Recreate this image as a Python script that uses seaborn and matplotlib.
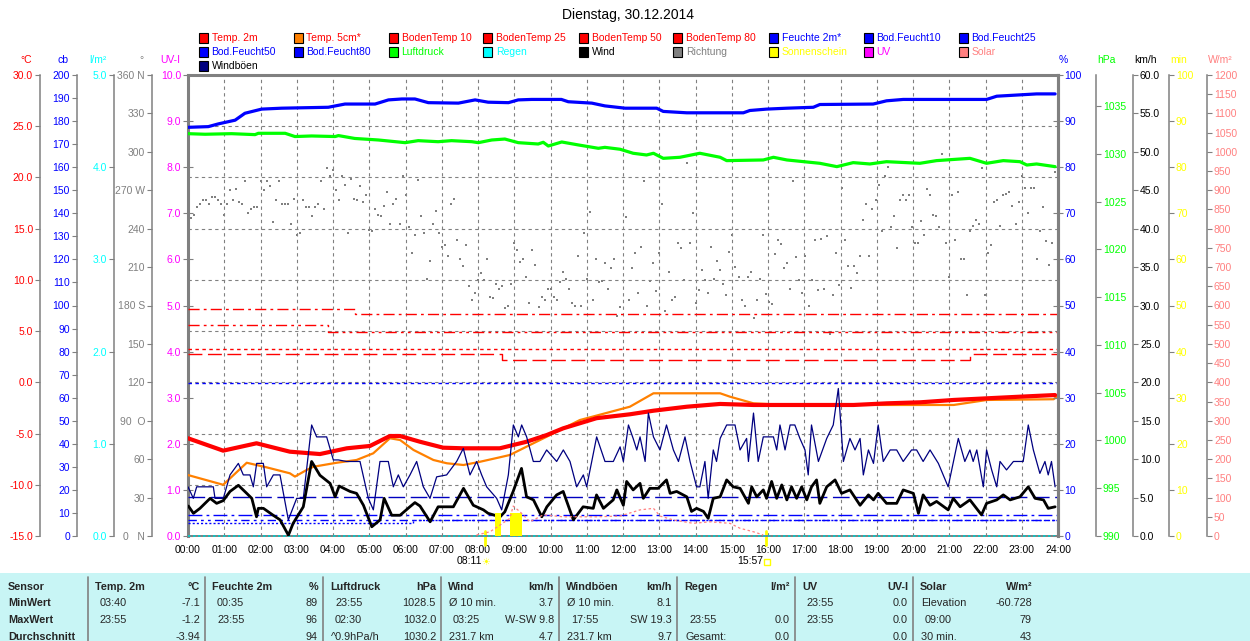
import numpy as np
import matplotlib
matplotlib.use("Agg")
import matplotlib.pyplot as plt
import seaborn as sns
from matplotlib.patches import Rectangle
from matplotlib.lines import Line2D

# ---------------- data ----------------
title = "Dienstag, 30.12.2014"
hours = list(range(25))
hour_labels = ["%02d:00" % h for h in hours]

# Temp. 2m / Temp. 5cm (degC)
temp2m_t = [0, 0.97, 1.89, 2.81, 3.64, 4.38, 5.02, 5.57, 5.85, 6.4, 7.04, 7.6, 8.6, 8.97,
            9.34, 9.9, 10.35, 11.27, 12.19, 12.84, 13.76, 14.68, 15.6, 16.52, 17.44, 18.36,
            19.28, 20.2, 21.12, 22.04, 22.96, 23.92]
temp2m = [-5.46, -6.67, -5.95, -6.77, -7.0, -6.44, -6.21, -5.24, -5.24, -5.8, -6.38, -6.44,
          -6.44, -6.12, -5.8, -5.14, -4.49, -3.5, -3.12, -2.77, -2.38, -2.11, -2.21, -2.21,
          -2.21, -2.21, -2.05, -1.95, -1.72, -1.56, -1.4, -1.24]
temp5_t = [0, 0.97, 1.62, 2.17, 2.81, 2.95, 3.27, 3.46, 4.1, 4.65, 5.11, 5.57, 5.85, 6.22,
           6.77, 7.14, 7.6, 8.06, 8.6, 8.88, 9.43, 9.9, 10.81, 12.19, 12.84, 14.68, 14.95,
           15.6, 16.52, 21.12, 22.04, 23.88, 23.97]
temp5 = [-9.05, -10.0, -7.85, -8.3, -8.88, -9.2, -8.56, -8.24, -7.85, -7.58, -6.93, -5.46,
         -5.63, -6.6, -7.58, -7.9, -8.07, -7.75, -7.32, -7.09, -6.12, -5.3, -3.68, -2.38,
         -1.07, -1.07, -1.4, -2.05, -2.21, -2.21, -1.72, -1.65, -1.4]

# soil temperatures (degC), values change at the given times
boden80_t, boden80 = [0, 4.6, 24], [7.13, 6.64, 6.64]
boden50_t, boden50 = [0, 3.86, 24], [5.57, 4.88, 4.88]
boden25_t, boden25 = [0, 24], [3.23, 3.23]
boden10_t, boden10 = [0, 8.65, 21.57, 24], [2.74, 2.15, 2.74, 2.74]

# soil moisture (cb)
bf10_t, bf10 = [0, 24], [66.2, 66.2]
bf25_t, bf25 = [0, 24], [16.8, 16.8]
bf50_t, bf50 = [0, 24], [9.1, 9.1]
bf80_t, bf80 = [0, 6.2, 24], [6.9, 6.9, 6.9]
bf80b_t, bf80b = [0, 6.2, 24], [5.8, 6.9, 6.9]

# Feuchte 2m (%)
hum_t = [0, 0.56, 0.84, 1.3, 1.57, 2.03, 2.58, 3.87, 4.33, 5.16, 5.53, 5.9, 6.26, 6.63, 7.46,
         7.92, 8.28, 8.84, 9.11, 9.48, 10.3, 10.49, 11.14, 11.5, 12.06, 12.93, 13.11, 13.76,
         15.32, 15.5, 15.96, 16.52, 17.25, 17.43, 18.9, 19.27, 19.73, 22.03, 22.31, 23.41, 23.92]
hum = [88.65, 88.8, 89.4, 90.2, 91.7, 92.6, 92.8, 93.0, 93.7, 93.7, 94.6, 94.8, 94.8, 94.0,
       93.9, 94.6, 94.1, 94.0, 94.6, 94.7, 94.7, 94.2, 93.9, 93.3, 92.8, 92.8, 92.1, 91.8,
       91.8, 92.3, 92.6, 92.8, 93.0, 93.6, 93.7, 94.4, 94.7, 94.7, 95.4, 95.9, 95.9]

# Luftdruck (hPa)
pres_t = [0, 0.47, 1.2, 1.85, 1.94, 2.68, 2.95, 3.41, 4.06, 4.15, 4.6, 5.25, 5.99, 6.35, 6.9,
          7.27, 7.83, 8.01, 8.38, 8.74, 9.11, 9.66, 9.8, 9.94, 10.31, 10.77, 11.32, 11.5,
          11.92, 12.28, 12.65, 12.84, 13.11, 13.57, 14.12, 14.68, 14.86, 15.87, 16.15, 16.52,
          17.43, 17.9, 18.35, 18.81, 19.27, 20.19, 20.65, 21.57, 22.03, 22.49, 22.95, 23.14,
          23.41, 23.92]
pres = [1032.1, 1032.04, 1032.1, 1032.0, 1032.14, 1032.14, 1031.8, 1031.86, 1031.8, 1031.9,
        1031.6, 1031.44, 1031.16, 1031.37, 1031.26, 1031.37, 1031.26, 1031.16, 1031.44,
        1031.54, 1031.16, 1031.02, 1031.2, 1030.81, 1031.23, 1030.92, 1030.57, 1030.67,
        1030.47, 1030.05, 1029.87, 1030.05, 1029.52, 1029.63, 1030.05, 1029.63, 1029.28,
        1029.35, 1029.63, 1029.35, 1029.0, 1028.65, 1029.07, 1028.93, 1029.17, 1029.0,
        1029.28, 1029.52, 1029.0, 1029.28, 1029.17, 1028.82, 1028.93, 1028.65]

# Wind (km/h)
wind_t = [0.01, 0.15, 0.33, 0.61, 0.79, 0.97, 1.16, 1.39, 1.62, 1.76, 1.89, 1.94, 2.08, 2.35,
          2.54, 2.77, 2.9, 3.18, 3.41, 3.64, 3.92, 4.06, 4.17, 4.47, 4.65, 4.84, 5.07, 5.3,
          5.41, 5.62, 5.85, 6.12, 6.26, 6.4, 6.68, 6.9, 7.14, 7.32, 7.6, 7.87, 8.15, 8.28,
          8.61, 8.74, 8.97, 9.2, 9.34, 9.53, 9.76, 9.9, 10.17, 10.35, 10.63, 10.9, 11.18,
          11.27, 11.46, 11.73, 11.83, 12.01,
          12.1, 12.28, 12.47, 12.56, 12.74, 12.97, 13.2, 13.3, 13.48, 13.76, 13.89, 14.03,
          14.22, 14.35, 14.49, 14.68, 14.86, 15.04, 15.23, 15.46, 15.55, 15.69, 15.87, 15.96,
          16.1, 16.24, 16.38, 16.52, 16.65, 16.79, 16.93, 17.07, 17.2, 17.34, 17.43, 17.62,
          17.85, 18.03, 18.26, 18.54, 18.77, 18.91, 19.04, 19.27, 19.55, 19.73, 20.01, 20.15,
          20.28, 20.47, 20.65, 20.97, 21.11, 21.3, 21.57, 21.89, 22.03, 22.31, 22.49, 22.68,
          22.95, 23.18, 23.37, 23.6, 23.73, 23.92]
wind = [3.9, 2.95, 3.6, 4.9, 4.25, 4.6, 5.8, 6.6, 5.55, 4.9, 2.5, 3.6, 3.6, 2.7, 2.1, 0.1,
        1.65, 3.8, 9.7, 7.9, 6.85, 5.1, 6.5, 5.8, 5.55, 4.0, 1.2, 2.1, 4.9, 2.7, 2.7, 3.8,
        4.35, 3.9, 1.85, 3.8, 3.8, 3.8, 6.2, 4.0, 3.4, 2.95, 2.5, 3.15, 5.8, 8.8, 5.1, 4.7,
        2.5, 3.8, 5.35, 5.8, 2.1, 3.8, 3.6, 5.35, 3.6, 4.7, 6.0, 4.0,
        7.1, 6.0, 6.85, 4.9, 6.2, 6.2, 7.3, 5.55, 5.8, 5.1, 3.2, 3.6, 3.2, 2.3, 4.9, 5.1,
        7.3, 6.4, 6.2, 4.25, 6.4, 5.1, 6.0, 4.9, 7.1, 4.9, 6.65, 4.7, 6.4, 4.9, 6.4, 4.7,
        6.4, 7.3, 4.25, 6.4, 7.3, 5.55, 6.0, 4.0, 5.35, 4.7, 5.55, 4.25, 4.25, 6.0, 5.55,
        2.95, 5.35, 4.0, 4.5, 3.4, 4.9, 3.8, 4.7, 2.75, 4.25, 4.7, 5.35, 4.7, 5.1, 6.4, 4.9,
        4.7, 3.6, 3.8]

# Windboeen (km/h)
gust_t = [0, 0.147, 0.239, 0.699, 0.745, 0.975, 1.159, 1.389, 1.526, 1.71, 1.802, 1.894, 2.078,
          2.17, 2.354, 2.538, 2.768, 2.998, 3.181, 3.411, 3.549, 3.825, 4.009, 4.147, 4.377,
          4.745, 4.975, 5.113, 5.296, 5.526, 5.664, 5.802, 5.94, 6.124, 6.308, 6.492, 6.676,
          6.86, 7.135, 7.411, 7.595, 7.779, 7.963, 8.101, 8.239, 8.515, 8.653, 8.837, 8.975,
          9.113, 9.205, 9.342, 9.526, 9.71, 9.894, 10.17, 10.354, 10.538, 10.722, 10.906,
          10.998, 11.273, 11.503, 11.733,
          11.92, 12.01, 12.15, 12.28, 12.38, 12.47, 12.61, 12.7, 12.84, 13.02, 13.2, 13.39,
          13.53, 13.71, 13.85, 14.03, 14.12, 14.26, 14.35, 14.49, 14.58, 14.68, 14.86, 15.09,
          15.23, 15.41, 15.46, 15.6, 15.73, 15.87, 16.15, 16.24, 16.33, 16.47, 16.61, 16.74,
          16.88, 17.02, 17.11, 17.2, 17.39, 17.62, 17.8, 17.94, 18.08, 18.26, 18.4, 18.54,
          18.63, 18.77, 18.91, 19.04, 19.18, 19.37, 19.55, 19.73, 19.96, 20.1, 20.28, 20.47,
          20.7, 20.97, 21.25, 21.43, 21.57, 21.66, 21.76, 21.94, 22.03, 22.17, 22.31, 22.4,
          22.58, 22.77, 23.04, 23.18, 23.32, 23.5, 23.64, 23.73, 23.82, 23.92]
gust = [6.4, 4.9, 6.4, 6.4, 4.9, 4.9, 7.95, 9.45, 7.95, 7.95, 6.4, 9.45, 9.45, 6.4, 7.95, 7.95,
        2.1, 4.9, 4.9, 14.45, 12.9, 12.9, 9.9, 9.9, 9.7, 9.7, 4.9, 3.4, 9.7, 9.7, 6.4, 7.95,
        6.4, 7.95, 9.7, 6.4, 4.9, 7.7, 7.95, 9.7, 11.4, 7.95, 9.7, 7.95, 6.4, 4.9, 3.4, 7.95,
        14.45, 12.9, 14.45, 12.9, 9.7, 9.7, 11.2, 9.7, 11.2, 9.7, 6.4, 7.95, 6.4, 12.9, 9.7, 9.7,
        11.6, 9.7, 14.45, 12.7, 11.2, 12.9, 9.7, 16.0, 12.9, 11.2, 14.45, 11.2, 9.7, 12.9, 9.7,
        6.4, 6.4, 9.7, 4.9, 11.2, 9.7, 12.7, 14.45, 14.45, 11.2, 12.7, 9.7, 16.0, 9.7, 12.9,
        12.9, 11.2, 14.45, 11.2, 14.45, 14.45, 12.7, 11.2, 7.95, 14.45, 9.7, 12.7, 14.45, 19.2,
        9.7, 12.7, 11.2, 12.7, 7.95, 11.2, 9.45, 14.45, 9.7, 11.2, 11.2, 9.7, 11.2, 11.2, 9.7,
        11.2, 9.45, 6.4, 12.7, 9.7, 11.2, 9.7, 11.2, 6.4, 11.2, 8.6, 6.4, 9.7, 8.6, 9.7, 9.7,
        14.45, 11.2, 8.15, 9.7, 7.95, 9.7, 6.4]

# Richtung (degrees), 5-minute samples, first and second half of the day
dir_a = [248, 251, 257, 259, 262, 262, 259, 265, 265, 262, 259, 251, 259, 270, 262, 271, 261,
         259, 277, 252, 255, 257, 257, 277, 270, 277, 273, 245, 262, 277, 259, 259, 259, 244,
         263, 235, 237, 262, 257, 257, 250, 257, 259, 277, 255, 287, 281, 286, 270, 262, 281,
         274, 237, 279, 263, 262, 273, 261, 266, 239, 238, 255, 251, 250, 258, 269, 244, 259,
         263, 244, 281, 266, 241, 221, 235, 278, 250, 237, 201, 215, 244, 254, 237, 226, 227,
         219, 259, 263, 231, 216, 211, 227, 195, 184, 190, 200, 205, 200, 216, 187, 186, 197,
         193, 195, 178, 180, 197, 229, 223, 214, 216, 202, 182, 223, 212, 179, 187, 184, 193,
         193, 187, 184, 198, 206, 201, 193, 182, 180, 219, 180, 237, 201, 253, 184, 216, 198,
         199, 213, 193, 209, 216, 172, 179]
dir_b = [249, 184, 209, 221, 190, 226, 277, 180, 199, 213, 191, 221, 259, 176, 206, 184, 187,
         229, 225, 200, 291, 229, 252, 182, 192, 208, 200, 190, 226, 201, 215, 208, 197, 188,
         222, 235, 210, 202, 184, 180, 202, 206, 170, 184, 201, 235, 189, 183, 181, 220, 231,
         228, 209, 213, 193, 277, 218, 200, 190, 219, 180, 200, 231, 192, 232, 193, 234, 158,
         188, 221, 196, 272, 231, 211, 194, 211, 205, 219, 247, 259, 219, 255, 262, 274, 238,
         281, 288, 241, 250, 225, 262, 266, 262, 266, 241, 229, 229, 246, 235, 271, 266, 251,
         250, 241, 298, 229, 202, 266, 231, 269, 216, 216, 188, 238, 242, 247, 244, 287, 188,
         221, 227, 261, 262, 242, 266, 267, 269, 258, 244, 261, 281, 272, 252, 272, 272, 216,
         238, 257, 230, 212, 229, 284]
dir_a_t = np.linspace(0.083, 11.92, len(dir_a))
dir_b_t = np.linspace(12.08, 23.92, len(dir_b))

# Sonnenschein (min per 5 minutes)
sun_t = [8.47, 8.55, 8.88, 8.96, 9.04, 9.12]
sun_min = [5, 5, 5, 5, 5, 5]

# Solar (W/m2)
solar_t = [7.96, 8.33, 8.61, 8.88, 8.97, 9.16, 9.43, 9.8, 10.35, 11.27, 11.92, 12.47, 12.84,
           13.02, 13.39, 13.94, 14.4, 14.95, 15.23, 15.6, 15.87]
solar = [2.6, 11, 28.6, 46, 78, 63, 37, 55, 50, 50, 52, 68, 72, 52, 41.7, 33, 37, 33, 20, 11, 2.6]

# Regen / UV stayed at zero
zero_t, zero_v = [0, 24], [0, 0]

# sunrise / sunset
sun_events = [8 + 11 / 60, 15 + 57 / 60]
sun_event_labels = ["08:11", "15:57"]

# legend
legend_rows = [
    ["Temp. 2m", "Temp. 5cm*", "BodenTemp 10", "BodenTemp 25", "BodenTemp 50", "BodenTemp 80",
     "Feuchte 2m*", "Bod.Feucht10", "Bod.Feucht25"],
    ["Bod.Feucht50", "Bod.Feucht80", "Luftdruck", "Regen", "Wind", "Richtung", "Sonnenschein",
     "UV", "Solar"],
    ["Windböen"],
]
legend_box_colors = [
    ["#ff0000", "#ff8000", "#ff0000", "#ff0000", "#ff0000", "#ff0000", "#0000ff", "#0000ff", "#0000ff"],
    ["#0000ff", "#0000ff", "#00ff00", "#00ffff", "#000000", "#808080", "#ffff00", "#ff00ff", "#ff8080"],
    ["#000080"],
]
legend_text_colors = [
    ["#ff0000", "#ff0000", "#ff0000", "#ff0000", "#ff0000", "#ff0000", "#0000ff", "#0000ff", "#0000ff"],
    ["#0000ff", "#0000ff", "#00ff00", "#00ffff", "#000000", "#808080", "#ffff00", "#ff00ff", "#ff8080"],
    ["#000000"],
]

# summary table
row_names = ["Sensor", "MinWert", "MaxWert", "Durchschnitt"]
sensors = ["Temp. 2m", "Feuchte 2m", "Luftdruck", "Wind", "Windböen", "Regen", "UV", "Solar"]
units = ["°C", "%", "hPa", "km/h", "km/h", "l/m²", "UV-I", "W/m²"]
min_when = ["03:40", "00:35", "23:55", "Ø 10 min.", "Ø 10 min.", "", "23:55", "Elevation"]
min_val = ["-7.1", "89", "1028.5", "3.7", "8.1", "", "0.0", "-60.728"]
max_when = ["23:55", "23:55", "02:30", "03:25", "17:55", "23:55", "23:55", "09:00"]
max_val = ["-1.2", "96", "1032.0", "W-SW 9.8", "SW 19.3", "0.0", "0.0", "79"]
avg_when = ["", "", "^0.9hPa/h", "231.7 km", "231.7 km", "Gesamt:", "", "30 min."]
avg_val = ["-3.94", "94", "1030.2", "4.7", "9.7", "0.0", "0.0", "43"]

# ---------------- drawing ----------------
sns.set_style("white")
plt.rcParams["font.family"] = ["Liberation Sans", "DejaVu Sans"]
plt.rcParams["font.size"] = 7.5

GRAY = "#808080"
W, H = 1250, 641
L, R, T, B = 188, 1058, 75, 536

fig = plt.figure(figsize=(W / 100, H / 100), dpi=100)


def fx(px):
    return px / W


def fy(py):
    return 1 - py / H


def apos(px):
    return (px - L) / (R - L)


ax = fig.add_axes([fx(L), fy(B), (R - L) / W, (B - T) / H])
ax.set_xlim(0, 24)
ax.set_ylim(0, 10)
ax.set_xticks(hours)
ax.set_xticklabels(hour_labels)
ax.set_yticks(range(11))
ax.set_yticklabels(["%.1f" % v for v in range(11)])
ax.tick_params(axis="x", length=0, pad=6.5, labelsize=7.5, labelcolor="black")
ax.tick_params(axis="y", direction="inout", length=7, width=0.8, color=GRAY,
               labelcolor="#ff00ff", labelsize=7.5, pad=1.5)
for side, s in ax.spines.items():
    s.set_color(GRAY)
    s.set_linewidth(2.2 if side != "bottom" else 1.4)
ax.grid(axis="x", color=GRAY, linestyle=(0, (3, 3)), linewidth=0.8)
ax.set_axisbelow(True)
ax.text(apos(L - 8), 1 + 15 / (B - T), "UV-I", transform=ax.transAxes, ha="right",
        va="center", color="#ff00ff", fontsize=7.5)


def make_axis(side, px, lim, ticks, labels, color, unit, lw=1.1, direction="out"):
    a = ax.twinx()
    a.set_ylim(*lim)
    for s in a.spines.values():
        s.set_visible(False)
    sp = a.spines[side]
    sp.set_visible(True)
    sp.set_position(("axes", apos(px)))
    sp.set_color(GRAY)
    sp.set_linewidth(lw)
    a.yaxis.set_ticks_position(side)
    a.set_yticks(ticks)
    a.set_yticklabels(labels)
    a.tick_params(axis="y", direction=direction, length=3.8 if direction == "out" else 7,
                  width=0.8, color=GRAY, labelcolor=color, labelsize=7.5, pad=1.2)
    if side == "left":
        a.text(apos(px - 8), 1 + 15 / (B - T), unit, transform=a.transAxes, ha="right",
               va="center", color=color, fontsize=7.5)
    else:
        a.text(apos(px + 1), 1 + 15 / (B - T), unit, transform=a.transAxes, ha="left",
               va="center", color=color, fontsize=7.5)
    return a


c_ticks = list(range(-15, 31, 5))
c_ax = make_axis("left", 40, (-15, 30), c_ticks, ["%.1f" % v for v in c_ticks], "#ff0000", "°C")
c_ax.grid(axis="y", color=GRAY, linestyle=(0, (3, 3)), linewidth=0.8)
cb_ticks = list(range(0, 201, 10))
cb_ax = make_axis("left", 77, (0, 200), cb_ticks, [str(v) for v in cb_ticks], "#0000ff", "cb")
l_ticks = list(range(6))
l_ax = make_axis("left", 114, (0, 5), l_ticks, ["%.1f" % v for v in l_ticks], "#00ffff", "l/m²")
deg_ticks = list(range(0, 361, 30))
deg_labels = ["0   N", "30", "60", "90  O", "120", "150", "180 S", "210", "240", "270 W",
              "300", "330", "360 N"]
deg_ax = make_axis("left", 152, (0, 360), deg_ticks, deg_labels, GRAY, "°")
pct_ticks = list(range(0, 101, 10))
pct_ax = make_axis("right", R, (0, 100), pct_ticks, [str(v) for v in pct_ticks], "#0000ff", "%",
                   lw=2.2, direction="inout")
hpa_ticks = list(range(990, 1036, 5))
hpa_ax = make_axis("right", 1096, (990, 1038.24), hpa_ticks, [str(v) for v in hpa_ticks],
                   "#00ff00", "hPa")
kmh_ticks = list(range(0, 61, 5))
kmh_ax = make_axis("right", 1133, (0, 60), kmh_ticks, ["%.1f" % v for v in kmh_ticks],
                   "#000000", "km/h")
min_ticks = list(range(0, 101, 10))
min_ax = make_axis("right", 1169, (0, 100), min_ticks, [str(v) for v in min_ticks],
                   "#ffff00", "min")
w_ticks = list(range(0, 1201, 50))
w_ax = make_axis("right", 1207, (0, 1200), w_ticks, [str(v) for v in w_ticks], "#ff8080", "W/m²")

# soil temperatures
for tt, vv, ls in [(boden80_t, boden80, (0, (8, 3, 2, 3))),
                   (boden50_t, boden50, (0, (8, 3, 2, 3, 2, 3))),
                   (boden25_t, boden25, (0, (2.5, 2.5))),
                   (boden10_t, boden10, (0, (10, 4)))]:
    sns.lineplot(x=tt, y=vv, ax=c_ax, color="#ff0000", linewidth=1.0, linestyle=ls,
                 drawstyle="steps-post", estimator=None)
sns.lineplot(x=temp5_t, y=temp5, ax=c_ax, color="#ff8000", linewidth=1.6, estimator=None)
sns.lineplot(x=temp2m_t, y=temp2m, ax=c_ax, color="#ff0000", linewidth=3.0, estimator=None)

# soil moisture
for tt, vv, ls, col in [(bf10_t, bf10, (0, (2.5, 2.5)), "#0000ff"),
                        (bf25_t, bf25, (0, (12, 4)), "#0000c0"),
                        (bf50_t, bf50, (0, (10, 3, 2, 3)), "#0000ff"),
                        (bf80_t, bf80, (0, (6, 3, 2, 3, 2, 3)), "#0000ff"),
                        (bf80b_t, bf80b, (0, (1.5, 1.5)), "#0000ff")]:
    sns.lineplot(x=tt, y=vv, ax=cb_ax, color=col, linewidth=1.0, linestyle=ls,
                 drawstyle="steps-post", estimator=None)

# rain and UV (zero)
sns.lineplot(x=zero_t, y=zero_v, ax=ax, color="#ff00ff", linewidth=1.0, estimator=None)
sns.lineplot(x=zero_t, y=zero_v, ax=l_ax, color="#00cccc", linewidth=1.2,
             linestyle=(0, (1.5, 1.5)), estimator=None, clip_on=False)

# wind direction dots
sns.scatterplot(x=dir_a_t, y=dir_a, ax=deg_ax, color=GRAY, marker="s", s=3, linewidth=0)
sns.scatterplot(x=dir_b_t, y=dir_b, ax=deg_ax, color=GRAY, marker="s", s=3, linewidth=0)

# humidity and pressure
sns.lineplot(x=hum_t, y=hum, ax=pct_ax, color="#0000ff", linewidth=2.3, estimator=None)
sns.lineplot(x=pres_t, y=pres, ax=hpa_ax, color="#00ff00", linewidth=2.3, estimator=None)

# sunshine
min_ax.bar(sun_t, sun_min, width=5 / 60, align="edge", color="#ffff00", edgecolor="none")

# solar
sns.lineplot(x=solar_t, y=solar, ax=w_ax, color="#ff8080", linewidth=0.9,
             linestyle=(0, (2, 2)), estimator=None)

# gusts and wind
sns.lineplot(x=gust_t, y=gust, ax=kmh_ax, color="#000080", linewidth=0.9, estimator=None)
sns.lineplot(x=wind_t, y=wind, ax=kmh_ax, color="#000000", linewidth=2.0, estimator=None)

for a in [ax, c_ax, cb_ax, l_ax, deg_ax, pct_ax, hpa_ax, kmh_ax, min_ax, w_ax]:
    a.set_xlim(0, 24)
    a.set_xlabel("")
    a.set_ylabel("")

# sunrise / sunset markers
trans = ax.get_xaxis_transform()
for i, (t, lab) in enumerate(zip(sun_events, sun_event_labels)):
    ax.plot([t, t], [(B - 531) / (B - T), (B - 545) / (B - T)], color="#ffff00", linewidth=2,
            transform=trans, clip_on=False)
    ax.text(t - 0.08, (B - 561) / (B - T), lab, transform=trans, ha="right", va="center",
            fontsize=7.5, color="black")
    if i == 0:
        ax.text(t + 0.02, (B - 562) / (B - T), "☀", transform=trans, ha="center", va="center",
                fontsize=7, color="#ffff00", family=["DejaVu Sans"])
    else:
        ax.plot([t + 0.02], [(B - 562) / (B - T)], marker="s", markersize=4, markerfacecolor="white",
                markeredgecolor="#ffff00", markeredgewidth=1, transform=trans, clip_on=False)

# title
fig.text(fx(628), fy(15), title, ha="center", va="center", fontsize=10, color="black")

# legend
row_y = [38, 52, 66]
for r, labels in enumerate(legend_rows):
    for k, lab in enumerate(labels):
        x0 = 198.5 + 95 * k
        fig.patches.append(Rectangle((fx(x0), fy(row_y[r] + 4.5)), 9 / W, 9 / H,
                                     transform=fig.transFigure, facecolor=legend_box_colors[r][k],
                                     edgecolor="black", linewidth=0.8))
        fig.text(fx(x0 + 13), fy(row_y[r]), lab, ha="left", va="center", fontsize=7.5,
                 color=legend_text_colors[r][k])

# summary table
fig.patches.append(Rectangle((0, 0), 1, (H - 573) / H, transform=fig.transFigure,
                             facecolor="#c8f5f5", edgecolor="none", zorder=0))
seps = [88, 205, 323, 441, 559, 677, 795, 913]
for s in seps:
    fig.lines.append(Line2D([fx(s), fx(s)], [fy(577), fy(641)], transform=fig.transFigure,
                            color=GRAY, linewidth=1.2))
ry = [587, 603.5, 620, 636.5]
for i, name in enumerate(row_names):
    fig.text(fx(8), fy(ry[i]), name, ha="left", va="center", fontsize=7.8, fontweight="bold")
rights = seps[1:] + [1037]
for j, sname in enumerate(sensors):
    left = seps[j]
    right = rights[j] - 5
    fig.text(fx(left + 7), fy(ry[0]), sname, ha="left", va="center", fontsize=7.8, fontweight="bold")
    fig.text(fx(right), fy(ry[0]), units[j], ha="right", va="center", fontsize=7.8, fontweight="bold")
    for i, (wn, vl) in enumerate([(min_when[j], min_val[j]), (max_when[j], max_val[j]),
                                  (avg_when[j], avg_val[j])]):
        indent = 12 if (len(wn) == 5 and wn[2] == ":") else 8
        fig.text(fx(left + indent), fy(ry[i + 1]), wn, ha="left", va="center", fontsize=7.8)
        fig.text(fx(right), fy(ry[i + 1]), vl, ha="right", va="center", fontsize=7.8)

fig.savefig("out.png", dpi=100)
